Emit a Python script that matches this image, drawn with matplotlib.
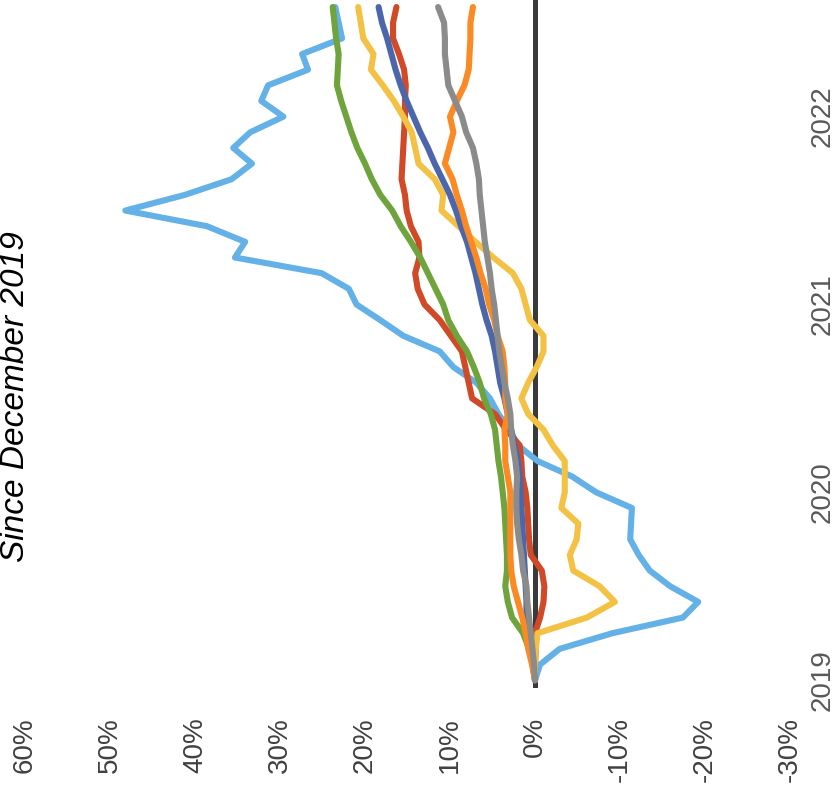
import numpy as np
import pandas as pd
import matplotlib
matplotlib.use("Agg")
import matplotlib.pyplot as plt

plt.rcParams['font.family'] = ['Liberation Sans', 'DejaVu Sans']

# Monthly observations, December 2019 through July 2023
months = pd.period_range('2019-12', periods=44, freq='M')

# Cumulative change since December 2019, percent
light_blue = [0, -0.6, -2.9, -9.1, -17.4, -19.2, -15.9, -13.5, -12.2, -11.2, -11.3, -11.4,
              -7.2, -4.4, -0.3, 2.0, 3.0, 4.3, 5.3, 6.9, 9.6, 11.2, 15.5, 18.2,
              21.0, 21.9, 25.1, 35.3, 34.1, 38.6, 48.2, 41.2, 35.7, 33.3, 35.5, 33.5,
              29.6, 32.2, 31.4, 26.7, 27.4, 22.7, 23.1, 23.5]
red = [0, 0.0, -0.1, 0.0, -0.6, -1.0, -1.1, -0.8, 0.5, 0.7, 0.8, 0.9,
       1.1, 1.5, 1.6, 1.8, 3.4, 4.7, 7.4, 7.8, 8.2, 8.6, 9.9, 11.2,
       13.0, 13.8, 14.1, 13.6, 13.7, 14.6, 15.1, 15.3, 15.7, 15.6, 15.5, 15.4,
       15.3, 15.3, 15.2, 15.4, 16.0, 16.7, 16.7, 16.3]
green = [0, 0.2, 0.7, 1.4, 2.7, 3.2, 3.5, 3.3, 3.3, 3.4, 3.5, 3.6,
         3.8, 4.0, 4.3, 4.5, 4.7, 5.2, 6.0, 6.5, 7.2, 8.0, 9.2, 10.2,
         10.8, 11.7, 12.6, 13.5, 14.6, 15.8, 16.8, 18.2, 19.2, 20.0, 20.9, 21.6,
         22.2, 22.8, 23.3, 23.2, 23.1, 23.4, 23.6, 23.8]
yellow = [0, 0.0, -0.1, -0.3, -6.1, -9.4, -7.6, -4.5, -4.1, -4.9, -5.1, -3.1,
          -3.5, -3.5, -3.5, -2.1, -1.0, 0.8, 1.6, 0.8, -0.2, -1.0, -1.0, 0.6,
          1.1, 1.6, 2.6, 4.9, 7.0, 9.0, 11.0, 10.8, 11.8, 13.7, 14.1, 14.5,
          15.5, 16.6, 17.9, 19.3, 19.0, 20.2, 20.5, 20.8]
dark_blue = [0, 0.3, 0.6, 0.7, 1.0, 1.0, 1.1, 1.2, 1.3, 1.4, 1.5, 1.6,
             1.7, 1.8, 2.0, 2.4, 2.8, 3.2, 3.6, 4.1, 4.4, 4.7, 5.1, 5.7,
             6.2, 6.6, 7.0, 7.5, 8.0, 8.7, 9.3, 10.0, 10.9, 11.8, 12.6, 13.5,
             14.3, 15.1, 15.8, 16.4, 16.9, 17.4, 18.0, 18.4]
orange = [0, 0.35, 0.8, 1.1, 1.5, 2.0, 2.5, 2.8, 2.9, 2.9, 2.9, 2.9,
          2.9, 3.2, 3.5, 3.5, 3.6, 3.2, 3.5, 3.5, 3.6, 3.8, 4.4, 4.8,
          5.4, 5.8, 6.4, 6.9, 7.5, 8.1, 8.6, 9.2, 9.7, 10.6, 10.1, 9.6,
          10.0, 9.2, 8.3, 7.8, 7.7, 7.6, 7.6, 7.3]
gray = [0, 0.1, 0.3, 0.5, 0.7, 0.9, 1.0, 1.4, 1.6, 1.9, 2.1, 2.2,
        2.2, 2.1, 2.3, 2.6, 2.8, 2.9, 3.2, 3.6, 3.9, 4.2, 4.4, 4.6,
        4.8, 5.1, 5.3, 5.6, 5.9, 6.1, 6.3, 6.5, 6.6, 6.9, 7.3, 8.1,
        8.6, 9.4, 10.2, 10.4, 10.6, 10.6, 10.7, 11.4]

value_ticks = [60, 50, 40, 30, 20, 10, 0, -10, -20, -30]
value_labels = ['60%', '50%', '40%', '30%', '20%', '10%', '0%', '-10%', '-20%', '-30%']

series = [
    (light_blue, '#63B1E7'),
    (red, '#D14A28'),
    (green, '#6FA33B'),
    (yellow, '#F3C244'),
    (dark_blue, '#4B66AA'),
    (orange, '#FB8A25'),
    (gray, '#8B8B8B'),
]

fig = plt.figure(figsize=(8.39, 7.93), dpi=100)
ax = fig.add_axes([25 / 839, 1 - 688 / 793, 765 / 839, 688 / 793])

pos = np.arange(len(months))

ax.axvline(0, color='#3A3A3A', lw=3.6, zorder=1)
for vals, col in series:
    ax.plot(vals, pos, color=col, lw=4.4, solid_capstyle='round',
            solid_joinstyle='round', zorder=2, clip_on=False)

ax.set_xlim(60, -30)
ax.set_ylim(-0.5, 43.45)

ax.set_xticks(value_ticks)
ax.set_xticklabels(value_labels, rotation=90, fontsize=20, color='#404040')
year_pos = [i for i, m in enumerate(months) if m.month == 12]
ax.set_yticks(year_pos)
ax.set_yticklabels([str(months[i].year) for i in year_pos], rotation=90,
                   fontsize=20, color='#595959', va='center')
ax.yaxis.tick_right()
ax.tick_params(axis='x', length=0, pad=21)
ax.tick_params(axis='y', length=0, pad=14)

for s in ax.spines.values():
    s.set_visible(False)

fig.text(0.0, (793 - 397) / 793, 'Since December 2019', rotation=90,
         fontsize=24, style='italic', ha='left', va='center', color='black')

fig.savefig('out.png', dpi=100, facecolor='white')
